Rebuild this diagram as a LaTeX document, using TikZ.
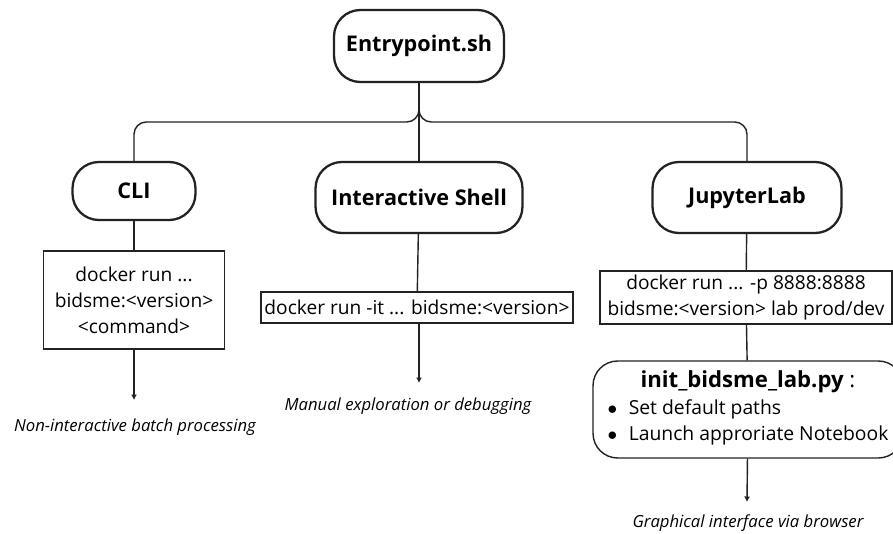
\documentclass[tikz,border=0pt]{standalone}
\usepackage{fontspec}
\setmainfont{Open Sans}
\usetikzlibrary{arrows.meta}
\definecolor{inkgrey}{RGB}{34,34,34}

\begin{document}
\begin{tikzpicture}[x=0.02cm, y=-0.02cm,
    >={Latex[length=1.1mm,width=1.2mm]},
    pill/.style={draw=inkgrey, line width=1.3pt, rounded corners=15pt, align=center, font=\fontsize{12.3}{14}\selectfont\bfseries},
    cmdbox/.style={draw=inkgrey, line width=0.7pt, align=center, inner sep=2pt, font=\fontsize{10.9}{14.8}\selectfont},
    outtext/.style={font=\fontsize{9.5}{11}\selectfont\itshape},
    link/.style={draw=inkgrey, line width=0.8pt}]
    \useasboundingbox (0,0) rectangle (893,534);

    % Entry point
    \node[pill, minimum width=3.4cm, minimum height=1.44cm] (entry) at (419,46) {Entrypoint.sh};

    % Three modes
    \node[pill, minimum width=2.46cm, minimum height=1.16cm] (cli) at (134,191) {CLI};
    \node[pill, minimum width=4.14cm, minimum height=1.42cm] (shell) at (419,197.5) {Interactive Shell};
    \node[pill, minimum width=3.78cm, minimum height=1.42cm] (lab) at (747,197.5) {JupyterLab};

    % Branches from the entry point
    \coordinate (bus) at (419,122);
    \draw[link, rounded corners=7pt] (cli.north) |- (bus) -- (entry.south);
    \draw[link, rounded corners=7pt] (lab.north) |- (bus) -- (entry.south);
    \draw[link] (entry.south) -- (shell.north);

    % Commands
    \node[cmdbox, minimum width=3.62cm, minimum height=1.96cm] (clicmd) at (134,300) {docker run ...\\bidsme:<version>\\<command>};
    \node[cmdbox, minimum height=0.62cm] (shellcmd) at (417,307.5) {docker run -it ... bidsme:<version>};
    \node[cmdbox, minimum width=5.84cm, minimum height=1.06cm, font=\fontsize{10.9}{15}\selectfont] (labcmd) at (746,297.5) {docker run ... -p 8888:8888\\bidsme:<version> lab prod/dev};
    \draw[link] (cli) -- (clicmd);
    \draw[link] (shell) -- (shellcmd);
    \draw[link] (lab) -- (labcmd);

    % Lab start script
    \node[draw=inkgrey, line width=0.8pt, rounded corners=14pt, align=center,
          minimum width=6.2cm, minimum height=1.94cm, inner sep=1pt] (init) at (748,409.5)
        {{\fontsize{12.6}{14}\selectfont\textbf{init\_bidsme\_lab.py} :}\\[1pt]
         {\fontsize{11}{14.8}\selectfont\begin{tabular}{@{}l@{}}$\bullet$\hspace{0.6em}Set default paths\\$\bullet$\hspace{0.6em}Launch approriate Notebook\end{tabular}}};
    \draw[link] (labcmd) -- (init);

    % Outcomes
    \coordinate (cliend) at (134,400);
    \coordinate (shellend) at (419,383);
    \coordinate (labend) at (747,502);
    \draw[link, ->] (clicmd) -- (cliend);
    \draw[link, ->] (shellcmd.south -| shellend) -- (shellend);
    \draw[link, ->] (init) -- (labend);
    \node[outtext] (cliout) at (135,427) {Non-interactive batch processing};
    \node[outtext] (shellout) at (408,406) {Manual exploration or debugging};
    \node[outtext] (labout) at (748,523) {Graphical interface via browser};
\end{tikzpicture}
\end{document}
